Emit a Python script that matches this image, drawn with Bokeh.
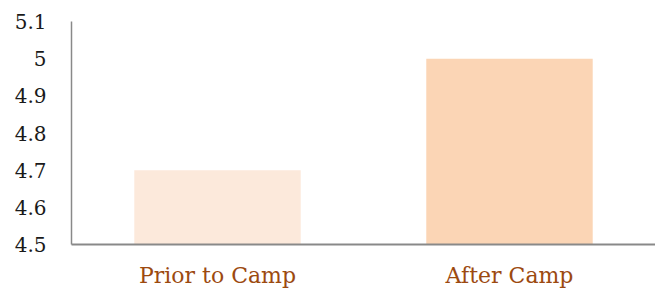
from bokeh.plotting import figure
from bokeh.models import ColumnDataSource, CustomJSTickFormatter, FixedTicker
from bokeh.embed import file_html
from bokeh.resources import INLINE

categories = ["Prior to Camp", "After Camp"]
scores = [4.7, 5.0]
bar_colors = ["#FCE9DB", "#FBD5B5"]
y_ticks = [4.5, 4.6, 4.7, 4.8, 4.9, 5.0, 5.1]

src = ColumnDataSource(dict(cat=categories, val=scores, color=bar_colors))

p = figure(x_range=categories, y_range=(4.5, 5.1), width=655, height=290,
           output_backend="svg", toolbar_location=None,
           min_border_left=71, min_border_right=0, min_border_top=21, min_border_bottom=30)

p.vbar(x="cat", top="val", bottom=4.5, width=0.57, fill_color="color",
       line_color=None, source=src)

p.xgrid.visible = False
p.ygrid.visible = False
p.outline_line_color = None
p.background_fill_color = "white"
p.border_fill_color = "white"

p.yaxis.ticker = FixedTicker(ticks=y_ticks)
p.yaxis.formatter = CustomJSTickFormatter(code="return String(Math.round(tick*10)/10);")
p.yaxis.major_tick_line_color = None
p.yaxis.minor_tick_line_color = None
p.yaxis.axis_line_color = "#898989"
p.yaxis.axis_line_width = 1.5
p.yaxis.major_label_standoff = 19
p.yaxis.major_label_text_font = "DejaVu Serif"
p.yaxis.major_label_text_font_size = "20px"
p.yaxis.major_label_text_color = "#1a1a1a"

p.xaxis.major_tick_line_color = None
p.xaxis.minor_tick_line_color = None
p.xaxis.axis_line_color = "#898989"
p.xaxis.axis_line_width = 2
p.xaxis.major_label_standoff = 12
p.xaxis.major_label_text_font = "DejaVu Serif"
p.xaxis.major_label_text_font_size = "22px"
p.xaxis.major_label_text_color = "#9C4A10"

open("out.html", "w").write(file_html(p, INLINE))
